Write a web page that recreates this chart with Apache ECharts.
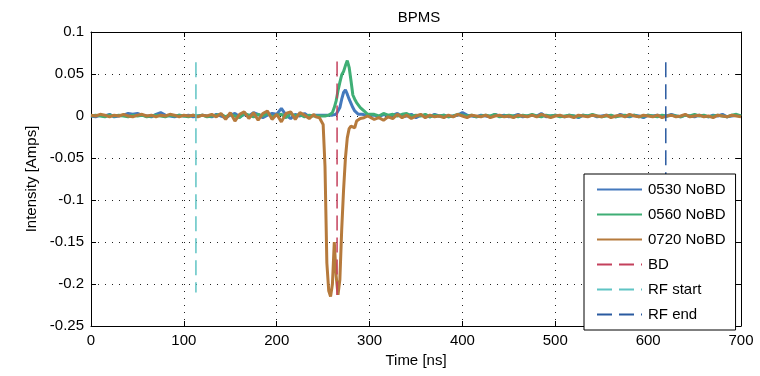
<!DOCTYPE html>
<html>
<head>
<meta charset="utf-8">
<script src="https://cdn.jsdelivr.net/npm/echarts@6/dist/echarts.min.js"></script>
<style>
html,body{margin:0;padding:0;background:#fff;}
#chart{width:760px;height:376px;}
</style>
</head>
<body>
<div id="chart"></div>
<script>
// ---- data ----
const chartTitle = 'BPMS';
const xTitle = 'Time [ns]';
const yTitle = 'Intensity [Amps]';
const seriesNames = ['0530 NoBD', '0560 NoBD', '0720 NoBD'];

const time = [
  0,5,10,15,20,25,30,35,40,45,
  50,55,60,65,70,75,80,85,90,95,
  100,105,110,115,120,125,130,135,140,145,
  150,155,160,165,170,175,180,185,190,195,
  200,205,210,215,220,225,230,235,240,
  242,244,246,248,250,252,254,256,258,260,
  262,264,266,268,270,272,274,276,278,280,
  282,284,286,288,290,292,294,296,298,300,
  305,310,315,320,325,330,335,340,345,350,
  355,360,365,370,375,380,385,390,395,400,
  405,410,415,420,425,430,435,440,445,450,
  455,460,465,470,475,480,485,490,495,500,
  505,510,515,520,525,530,535,540,545,550,
  555,560,565,570,575,580,585,590,595,600,
  605,610,615,620,625,630,635,640,645,650,
  655,660,665,670,675,680,685,690,695,700
];

const bpm0530 = [
  0.000,-0.001,0.001,0.000,0.002,-0.001,0.000,0.001,0.003,0.002,
  0.003,0.001,0.000,-0.001,0.002,0.004,0.001,0.000,-0.001,0.001,
  0.000,0.001,-0.001,0.000,0.001,0.000,-0.001,0.002,0.000,-0.002,
  0.001,0.003,-0.001,0.002,0.000,0.004,0.002,-0.002,0.001,0.003,
  0.002,0.009,0.001,-0.003,0.002,0.000,0.003,-0.001,0.001,
  0.000,0.001,-0.001,0.001,0.000,0.001,0.000,0.001,0.000,0.001,
  0.001,0.002,0.004,0.010,0.020,0.028,0.031,0.026,0.020,0.015,
  0.010,0.006,0.004,0.002,0.001,0.002,0.000,0.001,0.000,0.001,
  0.001,-0.001,0.002,0.000,0.001,0.003,-0.001,0.000,0.002,-0.002,
  0.001,0.000,-0.001,0.002,0.000,0.001,-0.001,0.000,0.001,0.004,
  0.001,0.000,-0.001,0.001,0.000,-0.001,0.002,0.000,0.001,-0.001,
  0.000,0.002,-0.001,0.000,0.001,0.000,0.003,-0.001,0.000,0.001,
  0.000,-0.001,0.001,0.000,-0.002,0.001,0.000,0.001,-0.001,0.000,
  0.001,0.000,-0.001,0.002,0.000,-0.001,0.001,0.000,-0.002,0.001,
  0.000,0.001,-0.001,0.000,0.002,0.000,-0.001,0.001,0.000,-0.001,
  0.001,0.000,-0.001,0.001,0.000,0.002,-0.001,0.000,0.001,0.000
];

const bpm0560 = [
  0.000,0.001,0.000,-0.001,0.001,0.000,0.001,0.000,-0.001,0.001,
  0.000,0.001,-0.001,0.000,0.001,0.000,-0.001,0.001,0.000,0.001,
  0.000,-0.001,0.001,0.000,0.001,-0.001,0.000,0.001,0.002,-0.001,
  0.002,0.000,-0.002,0.003,0.001,-0.001,0.002,0.000,0.003,-0.001,
  0.001,0.002,-0.002,0.003,0.000,0.002,-0.001,0.001,0.000,
  0.001,0.000,0.001,0.000,0.001,0.000,0.001,0.001,0.002,0.004,
  0.010,0.018,0.030,0.040,0.049,0.053,0.060,0.066,0.058,0.042,
  0.025,0.020,0.016,0.013,0.010,0.008,0.006,0.004,0.002,0.001,
  0.002,0.000,0.003,0.001,0.002,0.000,0.002,0.003,0.000,0.001,
  0.000,0.002,-0.001,0.001,0.000,0.001,-0.001,0.000,0.002,0.001,
  0.000,0.001,-0.001,0.000,0.001,0.000,0.002,-0.001,0.000,0.001,
  0.000,-0.001,0.001,0.000,0.002,0.000,-0.001,0.001,0.000,0.001,
  -0.001,0.000,0.001,0.000,-0.001,0.001,0.000,0.002,0.000,-0.001,
  0.000,0.001,-0.001,0.000,0.001,0.000,0.001,-0.001,0.000,0.001,
  0.000,-0.001,0.001,0.000,0.001,0.000,-0.001,0.001,0.000,0.002,
  0.000,0.001,-0.001,0.000,0.001,0.000,-0.001,0.001,0.002,0.000
];

const bpm0720 = [
  0.001,0.000,0.002,0.001,-0.001,0.001,0.000,0.002,0.000,-0.001,
  0.001,0.002,0.000,0.001,-0.001,0.001,0.000,0.002,0.001,-0.001,
  0.001,0.000,0.001,-0.001,0.001,0.000,0.002,-0.001,0.003,-0.004,
  0.004,-0.006,0.002,0.005,-0.003,0.004,-0.005,0.003,0.006,-0.004,
  0.002,-0.007,0.003,0.005,-0.004,0.004,0.001,-0.003,0.002,
  -0.001,0.000,-0.002,-0.003,-0.010,-0.060,-0.175,-0.208,-0.215,-0.200,
  -0.150,-0.190,-0.213,-0.195,-0.135,-0.088,-0.050,-0.026,-0.015,-0.012,
  -0.010,-0.014,-0.006,-0.008,-0.003,-0.004,-0.002,-0.003,0.000,-0.002,
  -0.004,-0.002,-0.005,-0.001,-0.003,0.002,-0.002,0.001,-0.003,0.000,
  0.002,-0.002,0.001,-0.001,0.000,-0.002,0.001,-0.001,0.002,0.000,
  -0.002,0.001,0.000,-0.001,0.001,-0.002,0.000,0.001,-0.001,0.000,
  -0.002,0.001,0.000,-0.001,0.001,-0.001,0.002,0.000,-0.002,0.000,
  0.001,-0.001,0.000,-0.002,0.001,0.000,-0.001,0.001,0.000,-0.001,
  0.001,-0.002,0.000,0.001,-0.001,0.002,0.000,-0.001,0.001,0.000,
  -0.001,0.001,-0.002,0.000,0.001,-0.001,0.000,0.002,-0.001,0.000,
  0.001,-0.001,0.000,-0.002,0.001,0.000,-0.001,0.001,0.000,-0.001
];

const markerNames = ['BD', 'RF start', 'RF end'];
const markerTimes = [265, 113, 619];
const markerTop = [0.065, 0.064, 0.064];
const markerBottom = [-0.213, -0.21, -0.21];

const xTicks = { min: 0, max: 700, interval: 100 };
const yTicks = { min: -0.25, max: 0.1, interval: 0.05 };

// ---- styles ----
const seriesColors = ['#4479bd', '#3fae75', '#b67a3c'];
const markerColors = ['#c4405c', '#5fc4c4', '#2a5aa0'];
const FONT = '"Liberation Sans", Arial, sans-serif';

const chart = echarts.init(document.getElementById('chart'), null, { renderer: 'canvas' });

const mainSeries = [bpm0530, bpm0560, bpm0720].map((vals, i) => ({
  name: seriesNames[i],
  type: 'line',
  xAxisIndex: 0, yAxisIndex: 0,
  data: time.map((t, k) => [t, vals[k]]),
  symbol: 'none',
  showSymbol: false,
  lineStyle: { color: seriesColors[i], width: 3 },
  itemStyle: { color: seriesColors[i] },
  z: 2 + i,
  silent: true
}));

const markerSeries = markerNames.map((n, i) => ({
  name: n,
  type: 'line',
  xAxisIndex: 0, yAxisIndex: 0,
  data: [[markerTimes[i], markerTop[i]], [markerTimes[i], markerBottom[i]]],
  symbol: 'none',
  showSymbol: false,
  lineStyle: { color: markerColors[i], width: 1.5, type: [15, 7] },
  itemStyle: { color: markerColors[i] },
  z: 6,
  silent: true
}));

const axisCommon = {
  type: 'value',
  axisLine: { show: true, onZero: false, lineStyle: { color: '#000', width: 1 } },
  axisTick: { show: true, inside: true, length: 5, lineStyle: { color: '#000' } },
  axisLabel: { color: '#000', fontFamily: FONT, fontSize: 15 },
  splitLine: { show: false }
};

const option = {
  animation: false,
  backgroundColor: '#fff',
  title: {
    text: chartTitle,
    left: 414, top: 5, textAlign: 'center',
    textStyle: { fontFamily: FONT, fontSize: 15, fontWeight: 'normal', color: '#000' }
  },
  grid: { left: 91, top: 32, width: 650, height: 294, containLabel: false, show: false },
  legend: {
    left: 584, top: 174,
    orient: 'vertical',
    data: seriesNames.concat(markerNames),
    itemWidth: 45, itemHeight: 14, itemGap: 10,
    padding: [8, 10, 8, 12],
    backgroundColor: '#fff',
    borderColor: '#000', borderWidth: 1, borderRadius: 0,
    itemStyle: { opacity: 0, borderWidth: 0 },
    textStyle: { fontFamily: FONT, fontSize: 15, color: '#000', padding: [0, 0, 0, 1] },
    z: 10
  },
  xAxis: [
    Object.assign({}, axisCommon, {
      min: xTicks.min, max: xTicks.max, interval: xTicks.interval,
      position: 'bottom',
      name: xTitle, nameLocation: 'middle', nameGap: 26,
      nameTextStyle: { fontFamily: FONT, fontSize: 15, color: '#000' },
      axisLabel: Object.assign({}, axisCommon.axisLabel, { margin: 7 }),
      splitLine: { show: true, lineStyle: { color: '#222', width: 1, type: [1, 6] } }
    }),
    Object.assign({}, axisCommon, {
      min: xTicks.min, max: xTicks.max, interval: xTicks.interval,
      position: 'top',
      axisLabel: { show: false }
    })
  ],
  yAxis: [
    Object.assign({}, axisCommon, {
      min: yTicks.min, max: yTicks.max, interval: yTicks.interval,
      position: 'left',
      name: yTitle, nameLocation: 'middle', nameGap: 52, nameRotate: 90,
      nameTextStyle: { fontFamily: FONT, fontSize: 15, color: '#000' },
      axisLabel: Object.assign({}, axisCommon.axisLabel, { margin: 7 }),
      splitLine: { show: true, lineStyle: { color: '#222', width: 1, type: [1, 6] } }
    }),
    Object.assign({}, axisCommon, {
      min: yTicks.min, max: yTicks.max, interval: yTicks.interval,
      position: 'right',
      axisLabel: { show: false }
    })
  ],
  series: mainSeries.concat(markerSeries)
};

chart.setOption(option);
</script>
</body>
</html>
